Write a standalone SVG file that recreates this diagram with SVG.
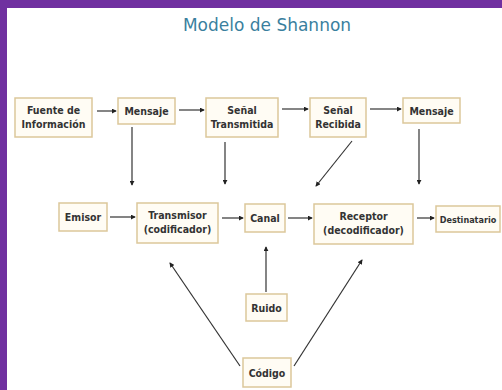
<svg xmlns="http://www.w3.org/2000/svg" width="502" height="390" viewBox="0 0 502 390">
<defs>
<style>
.box{fill:#fffcf4;stroke:#dcc79a;stroke-width:1.5}
.t{font-family:"DejaVu Sans Condensed","DejaVu Sans",sans-serif;font-weight:bold;font-size:10.5px;fill:#333;text-anchor:middle}
.c{stroke:#333;stroke-width:1.2;fill:none;marker-end:url(#ah)}
.title{font-family:"DejaVu Sans",sans-serif;font-size:17px;fill:#3a7f9e;text-anchor:middle}
</style>
<marker id="ah" viewBox="0 0 6 6" refX="5" refY="3" markerWidth="5" markerHeight="5" orient="auto" markerUnits="userSpaceOnUse">
<path d="M0,0 L6,3 L0,6 z" fill="#222"/>
</marker>
</defs>
<rect x="0" y="0" width="502" height="390" fill="#7030a0"/>
<rect x="7" y="8" width="495" height="382" fill="#ffffff"/>
<text class="title" x="267" y="31">Modelo de Shannon</text>

<g id="fuente"><rect class="box" x="15" y="98" width="77" height="39"/><text class="t" x="53.5" y="114">Fuente de</text><text class="t" x="53.5" y="128">Información</text></g>
<g id="mensaje1"><rect class="box" x="118" y="98" width="57" height="26"/><text class="t" x="146.5" y="115">Mensaje</text></g>
<g id="senal-t"><rect class="box" x="206" y="98" width="72" height="39"/><text class="t" x="242" y="114">Señal</text><text class="t" x="242" y="128">Transmitida</text></g>
<g id="senal-r"><rect class="box" x="310" y="98" width="56" height="39"/><text class="t" x="338" y="114">Señal</text><text class="t" x="338" y="128">Recibida</text></g>
<g id="mensaje2"><rect class="box" x="403" y="98" width="57" height="25"/><text class="t" x="431.5" y="114.5">Mensaje</text></g>
<g id="emisor"><rect class="box" x="59" y="203" width="48" height="28"/><text class="t" x="83" y="221">Emisor</text></g>
<g id="transmisor"><rect class="box" x="137" y="203" width="81" height="40"/><text class="t" x="177.5" y="219">Transmisor</text><text class="t" x="177.5" y="233">(codificador)</text></g>
<g id="canal"><rect class="box" x="245" y="204" width="40" height="28"/><text class="t" x="265" y="222">Canal</text></g>
<g id="receptor"><rect class="box" x="314" y="204" width="99" height="40"/><text class="t" x="363.5" y="220">Receptor</text><text class="t" x="363.5" y="234">(decodificador)</text></g>
<g id="destinatario"><rect class="box" x="436" y="206" width="64" height="26"/><text class="t" x="468" y="222.5" style="font-size:9px">Destinatario</text></g>
<g id="ruido"><rect class="box" x="246" y="294" width="41" height="27"/><text class="t" x="266.5" y="311.5">Ruido</text></g>
<g id="codigo"><rect class="box" x="243" y="358" width="48" height="29"/><text class="t" x="267" y="376.5">Código</text></g>

<g id="connectors">
<line class="c" x1="97" y1="111" x2="116" y2="111"/>
<line class="c" x1="179" y1="110" x2="204" y2="110"/>
<line class="c" x1="282" y1="109" x2="308" y2="109"/>
<line class="c" x1="370" y1="109" x2="401" y2="109"/>
<line class="c" x1="132" y1="127" x2="132" y2="185"/>
<line class="c" x1="225" y1="142" x2="225" y2="184"/>
<line class="c" x1="352" y1="141" x2="316" y2="186"/>
<line class="c" x1="419" y1="129" x2="419" y2="184"/>
<line class="c" x1="110" y1="217" x2="135" y2="217"/>
<line class="c" x1="222" y1="218" x2="243" y2="218"/>
<line class="c" x1="288" y1="218" x2="312" y2="218"/>
<line class="c" x1="417" y1="218" x2="434" y2="218"/>
<line class="c" x1="266" y1="292" x2="266" y2="247"/>
<line class="c" x1="240" y1="366" x2="170" y2="263"/>
<line class="c" x1="294" y1="366" x2="362" y2="260"/>
</g>
</svg>
